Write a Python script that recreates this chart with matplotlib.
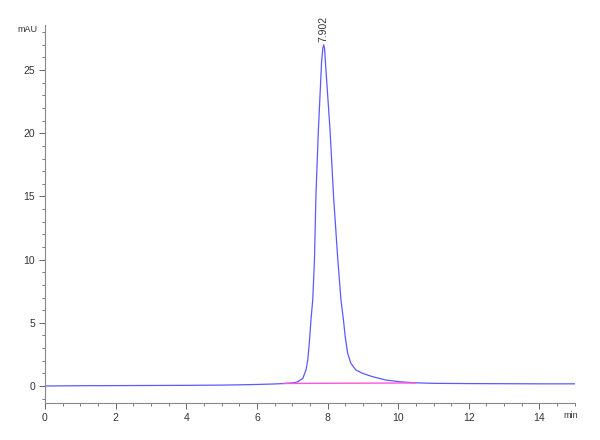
import matplotlib
matplotlib.use("Agg")
import matplotlib.pyplot as plt
from matplotlib.ticker import MultipleLocator

plt.rcParams["font.family"] = ["Liberation Sans Narrow", "Liberation Sans", "DejaVu Sans"]

# chromatogram (time in min, signal in mAU)
time_min = [0.0, 1.0, 2.0, 3.0, 4.0, 5.0, 5.5, 6.0, 6.5, 6.8, 7.06, 7.16,
            7.30, 7.39, 7.44, 7.49, 7.53, 7.58, 7.63, 7.67, 7.74, 7.83,
            7.865, 7.89, 7.915, 7.94, 8.07, 8.17, 8.29, 8.38, 8.45, 8.50,
            8.57, 8.66, 8.80, 8.99, 9.27, 9.65, 10.03, 10.4, 11.0, 12.0,
            13.0, 14.0, 15.0]
signal_mau = [0.0, 0.02, 0.03, 0.04, 0.05, 0.07, 0.09, 0.12, 0.16, 0.2, 0.26, 0.34,
              0.61, 1.27, 2.06, 3.64, 5.22, 6.8, 10.0, 15.0, 20.25, 25.6,
              26.7, 27.0, 26.7, 25.6, 20.25, 15.0, 10.0, 6.8, 5.22, 3.9,
              2.58, 1.79, 1.27, 1.0, 0.74, 0.47, 0.34, 0.26, 0.21, 0.19,
              0.18, 0.17, 0.17]

# integration baseline
base_t = [6.75, 10.5]
base_y = [0.2, 0.24]

peak_rt = 7.902
peak_h = 27.0

fig = plt.figure(figsize=(6, 4.4), dpi=100)
ax = fig.add_axes([0.075, 0.084, 0.883, 0.859])

ax.plot(time_min, signal_mau, color="#5a5aff", lw=0.9)
ax.plot(base_t, base_y, color="#ff55dd", lw=1.0)

ax.text(peak_rt - 0.02, peak_h + 0.2, f"{peak_rt:.3f}", rotation=90,
        ha="center", va="bottom", fontsize=7.5, color="#333333")

ax.set_xlim(0, 15)
ax.set_ylim(-1.35, 28.56)
ax.xaxis.set_major_locator(MultipleLocator(2))
ax.xaxis.set_minor_locator(MultipleLocator(0.5))
ax.yaxis.set_major_locator(MultipleLocator(5))
ax.yaxis.set_minor_locator(MultipleLocator(1))

for side in ["top", "right"]:
    ax.spines[side].set_visible(False)
for side in ["left", "bottom"]:
    ax.spines[side].set_color("#888888")
    ax.spines[side].set_linewidth(0.8)

ax.tick_params(which="major", length=4, width=0.7, color="#666666",
               labelsize=7.5, labelcolor="#333333", pad=3)
ax.tick_params(which="minor", length=2.5, width=0.6, color="#666666")

fig.text(38 / 600, 1 - 30 / 440, "mAU", ha="right", va="center",
         fontsize=6.5, color="#333333")
fig.text(571 / 600, 1 - 415 / 440, "min", ha="center", va="center",
         fontsize=6.5, color="#333333")

fig.savefig("out.png", dpi=100)
